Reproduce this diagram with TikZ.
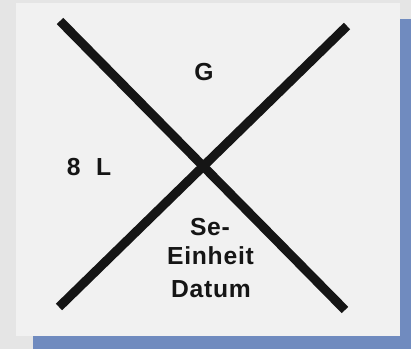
\documentclass[tikz,border=0pt]{standalone}
\usepackage{fontspec}
\setmainfont{Liberation Sans}
\definecolor{outergray}{HTML}{E5E5E5}
\definecolor{paper}{HTML}{F1F1F1}
\definecolor{shadowblue}{HTML}{708BBF}
\definecolor{ink}{HTML}{151515}
\tikzset{
  crossbar/.style={draw=ink, line width=6.8pt, line cap=butt},
  lbl/.style={anchor=base, inner sep=0pt, text=ink, font=\fontsize{18.5}{22}\selectfont\bfseries\addfontfeatures{LetterSpace=3}}
}
\begin{document}
\begin{tikzpicture}[x=0.75pt, y=-0.75pt]
  \useasboundingbox (0,0) rectangle (411,349);
  % backgrounds
  \fill[outergray] (0,0) rectangle (411,349);
  \fill[shadowblue] (400,19) rectangle (411,349);
  \fill[shadowblue] (33,336) rectangle (411,349);
  \fill[paper] (16,3) rectangle (400,336);
  % cross
  \coordinate (a1) at (60,21);
  \coordinate (a2) at (345,310);
  \coordinate (b1) at (347,26);
  \coordinate (b2) at (59,307);
  \draw[crossbar] (a1) -- (a2);
  \draw[crossbar] (b1) -- (b2);
  % labels
  \node[lbl] (g) at (204,81) {G};
  \node[lbl, anchor=base west] (l) at (66.5,176) {8 \hspace{6pt}L};
  \node[lbl] (se) at (210,235.5) {Se-};
  \node[lbl] (ein) at (210.5,264.5) {Einheit};
  \node[lbl] (dat) at (211,298) {Datum};
\end{tikzpicture}
\end{document}
